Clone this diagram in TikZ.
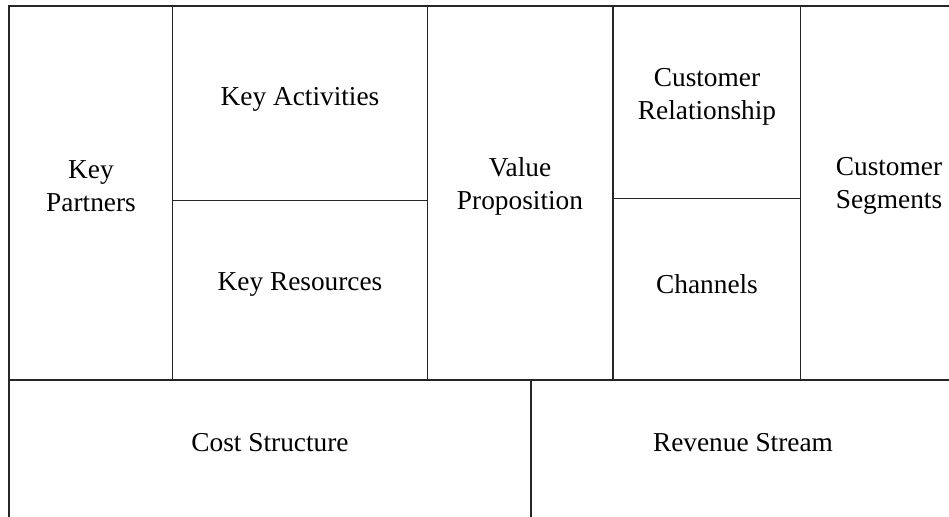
\documentclass[tikz,border=0pt]{standalone}
\usepackage{fontspec}
\setmainfont{Liberation Serif}
\usepackage{tikz}

\tikzset{
    canvaslabel/.style={align=center, font=\fontsize{20.5}{24.75}\selectfont},
    canvasline/.style={line width=1pt, black!85}
}

\begin{document}
\begin{tikzpicture}[x=0.75pt, y=-0.75pt]
    % Picture frame (the grid runs past the right and bottom edges)
    \clip (0, 0) rectangle (949, 517);

    % Outer lines
    \draw[canvasline] (9, 530) -- (9, 6) -- (960, 6);
    \draw[canvasline] (9, 380) -- (960, 380);

    % Upper columns
    \foreach \x in {172.5, 427.5, 613, 800.7} {
        \draw[canvasline] (\x, 6) -- (\x, 380);
    }

    % Split cells
    \draw[canvasline] (172.5, 200.5) -- (427.5, 200.5);
    \draw[canvasline] (613, 198.5) -- (800.7, 198.5);

    % Lower row
    \draw[canvasline] (531, 380) -- (531, 530);

    % Labels
    \node[canvaslabel] (partners) at (91, 186) {Key\\Partners};
    \node[canvaslabel] (activities) at (300, 99) {Key Activities};
    \node[canvaslabel] (resources) at (300, 284) {Key Resources};
    \node[canvaslabel] (value) at (520, 186) {Value\\Proposition};
    \node[canvaslabel] (relationship) at (707, 97) {Customer\\Relationship};
    \node[canvaslabel] (channels) at (707, 284) {Channels};
    \node[canvaslabel] (segments) at (889, 186) {Customer\\Segments};
    \node[canvaslabel] (cost) at (270, 443) {Cost Structure};
    \node[canvaslabel] (revenue) at (743, 443) {Revenue Stream};
\end{tikzpicture}
\end{document}
